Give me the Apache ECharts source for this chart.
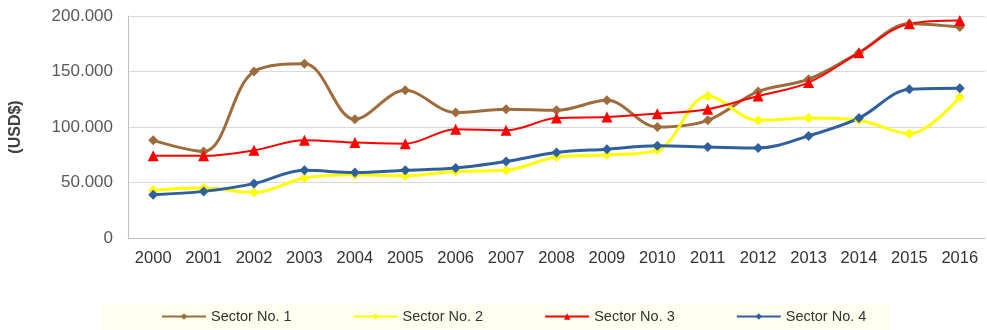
<!DOCTYPE html>
<html>
<head>
<meta charset="utf-8">
<script src="https://cdn.jsdelivr.net/npm/echarts@6/dist/echarts.min.js"></script>
<style>
html,body{margin:0;padding:0;background:#fff;}
#chart{width:987px;height:330px;}
</style>
</head>
<body>
<div id="chart"></div>
<script>
// categories
const years = ['2000','2001','2002','2003','2004','2005','2006','2007','2008','2009','2010','2011','2012','2013','2014','2015','2016']
// series values (USD$)
const sector1 = [88000,78000,150000,157000,107000,133000,113000,116000,115000,124000,100000,106000,132000,143000,167000,193000,190000]
const sector2 = [43000,45000,41000,54000,57000,56000,60000,61000,73000,75000,79000,128000,106000,108000,106000,94000,127000]
const sector3 = [74000,74000,79000,88000,86000,85000,98000,97000,108000,109000,112000,116000,128000,140000,167000,193000,196000]
const sector4 = [39000,42000,49000,61000,59000,61000,63000,69000,77000,80000,83000,82000,81000,92000,108000,134000,135000]
const names = ['Sector No. 1','Sector No. 2','Sector No. 3','Sector No. 4']

let chart = echarts.init(document.getElementById('chart'))

//千位分隔符用点
function fmt(v){
  if(v===0) return '0'
  return (v/1000).toFixed(0)+'.000'
}

function line(name, data, color, symbol, width, size){
  return {
    name:name,
    type:'line',
    data:data,
    smooth:0.35,
    symbol:symbol,
    symbolSize:size,
    lineStyle:{color:color,width:width},
    itemStyle:{color:color},
    emphasis:{disabled:true}
  }
}

let options = {
  animation:false,
  backgroundColor:'#fff',
  graphic:[{
    type:'rect',
    left:100, top:304,
    shape:{width:790,height:26},
    style:{fill:'#fffff0'},
    z:-1
  }],
  grid:{left:127,right:2,top:16,bottom:92},
  legend:{
    bottom:1,
    left:156,
    itemGap:61,
    itemWidth:44,
    itemHeight:8,
    textStyle:{fontFamily:'Liberation Sans',fontSize:14.5,color:'#333'},
    data:names
  },
  xAxis:{
    type:'category',
    data:years,
    axisLine:{lineStyle:{color:'#bfbfbf'}},
    axisTick:{lineStyle:{color:'#bfbfbf'}},
    axisLabel:{fontFamily:'Liberation Sans',fontSize:16.5,color:'#333',margin:12}
  },
  yAxis:{
    type:'value',
    min:0,max:200000,interval:50000,
    name:'(USD$)',
    nameLocation:'middle',
    nameGap:104,
    nameRotate:90,
    nameTextStyle:{fontFamily:'Liberation Sans',fontSize:16,fontWeight:'bold',color:'#404040'},
    axisLine:{show:true,lineStyle:{color:'#bfbfbf'}},
    axisTick:{show:false},
    splitLine:{lineStyle:{color:'#d9d9d9'}},
    axisLabel:{formatter:fmt,fontFamily:'Liberation Sans',fontSize:17,color:'#595959',margin:15}
  },
  series:[
    line(names[0],sector1,'#9e6c3c','diamond',3,10),
    line(names[1],sector2,'#ffff00','diamond',3,10),
    line(names[2],sector3,'#ff0000','triangle',2,11),
    line(names[3],sector4,'#2f5f9c','diamond',3,10)
  ]
}
chart.setOption(options)
</script>
</body>
</html>
